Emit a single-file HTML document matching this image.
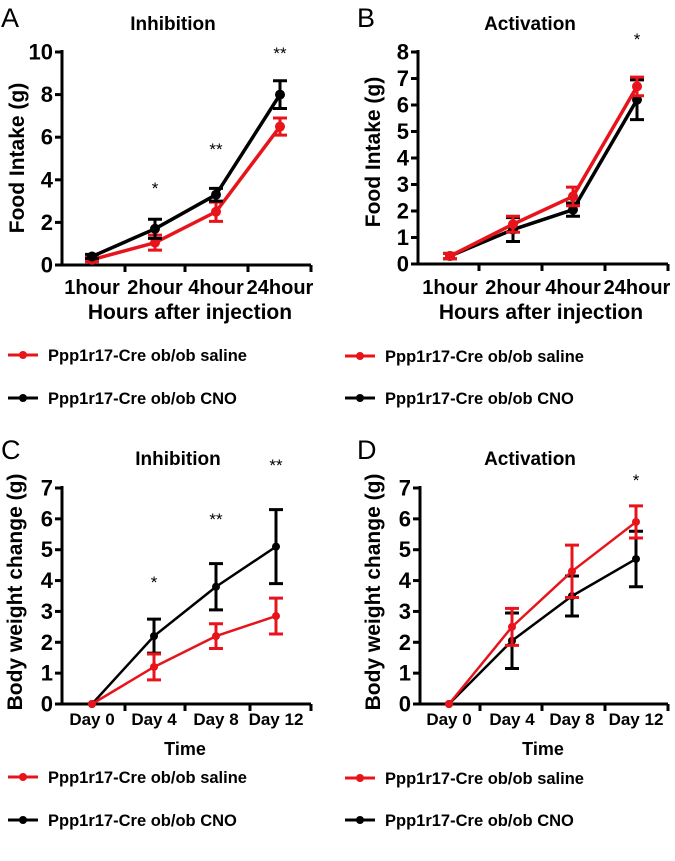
<!DOCTYPE html>
<html><head><meta charset="utf-8"><style>
body{margin:0;background:#fff}
svg{display:block;font-family:"Liberation Sans",Arial,sans-serif}
</style></head><body>
<svg id="s" width="675" height="861" viewBox="0 0 675 861" xmlns="http://www.w3.org/2000/svg"></svg>
<script>
const hourCats = ["1hour","2hour","4hour","24hour"];
const dayCats = ["Day 0","Day 4","Day 8","Day 12"];
const aCNO = [0.4,1.7,3.3,8.0], aCNOerr = [0.1,0.45,0.3,0.65];
const aSal = [0.25,1.05,2.5,6.5], aSalErr = [0.1,0.35,0.45,0.4];
const bCNO = [0.3,1.3,2.05,6.2], bCNOerr = [0.1,0.45,0.25,0.75];
const bSal = [0.3,1.5,2.55,6.7], bSalErr = [0.1,0.3,0.35,0.35];
const cCNO = [0,2.2,3.8,5.1], cCNOerr = [0,0.55,0.75,1.2];
const cSal = [0,1.2,2.2,2.85], cSalErr = [0,0.42,0.4,0.58];
const dCNO = [0,2.05,3.5,4.7], dCNOerr = [0,0.9,0.65,0.9];
const dSal = [0,2.5,4.3,5.9], dSalErr = [0,0.6,0.85,0.52];
const aStars = ["","*","**","**"], bStars = ["","","","*"], cStars = ["","*","**","**"], dStars = ["","","","*"];
const aTicks=[0,2,4,6,8,10], bTicks=[0,1,2,3,4,5,6,7,8], cdTicks=[0,1,2,3,4,5,6,7];

const S=document.getElementById('s');
const NS="http://www.w3.org/2000/svg";
function el(t,a,txt){const e=document.createElementNS(NS,t);for(const k in a)e.setAttribute(k,a[k]);if(txt!==undefined)e.textContent=txt;S.appendChild(e);return e;}

function panel(p){
  const y=v=>p.y0-(v/p.ymax)*(p.y0-p.ytop);
  const x=i=>p.pts[i];
  let e;
  e=el('text',{x:p.lx,y:p.ly,'font-size':27},p.letter);
  
  
  e=el('text',{x:p.tx,y:p.ty,'font-size':19,'font-weight':'bold','text-anchor':'middle'},p.title);
  
  
  e=el('line',{x1:p.ax,y1:p.ytop-2,x2:p.ax,y2:p.y0+1.5,stroke:'#000','stroke-width':3});
  
  
  e=el('line',{x1:p.ax-1.5,y1:p.y0,x2:p.xticks[3],y2:p.y0,stroke:'#000','stroke-width':3});
  
  
  p.xticks.forEach(t=>{const l=el('line',{x1:t,y1:p.y0,x2:t,y2:p.y0+7,stroke:'#000','stroke-width':3});
    
    });
  p.yticks.forEach(v=>{
    const l=el('line',{x1:p.ax-7,y1:y(v),x2:p.ax,y2:y(v),stroke:'#000','stroke-width':3});
    
    
    const t=el('text',{x:p.ax-9,y:y(v)+7.5,'font-size':22,'font-weight':'bold','text-anchor':'end'},String(v));
    
    
  });
  p.cats.forEach((c,i)=>{
    const t=el('text',{x:x(i),y:p.catY,'font-size':p.catFs,'font-weight':'bold','text-anchor':'middle'},c);
    
    
  });
  e=el('text',{x:p.xtX,y:p.xtY,'font-size':p.xtFs,'font-weight':'bold','text-anchor':'middle'},p.xtitle);
  
  
  e=el('text',{x:0,y:0,'font-size':p.ytFs,'font-weight':'bold','text-anchor':'middle',transform:`translate(${p.ytX},${p.ytY}) rotate(-90)`},p.ytitle);
  
  
  const series=p.order.map(k=>p.series[k]);
  series.forEach(s=>{
    const pts=s.v.map((v,i)=>x(i)+','+y(v)).join(' ');
    let l=el('polyline',{points:pts,fill:'none',stroke:s.c,'stroke-width':p.lw,'stroke-linejoin':'round'});
    
    
    s.v.forEach((v,i)=>{
      const er=s.e[i];
      if(er>0){
        const g=el('path',{d:`M${x(i)},${y(v-er)}V${y(v+er)}M${x(i)-7},${y(v+er)}H${x(i)+7}M${x(i)-7},${y(v-er)}H${x(i)+7}`,stroke:s.c,'stroke-width':3,fill:'none'});
        
        
      }
      const c=el('circle',{cx:x(i),cy:y(v),r:p.r,fill:s.c});
      
      
    });
  });
  p.stars.forEach((st,i)=>{ if(!st)return;
    const t=el('text',{x:x(i),y:p.starY[i],'font-size':17,'text-anchor':'middle'},st);
    
    
  });
  [['saline','#e8141b','Ppp1r17-Cre ob/ob saline',p.legY[0]],['cno','#000','Ppp1r17-Cre ob/ob CNO',p.legY[1]]].forEach(([n,c,txt,ly])=>{
    let l=el('line',{x1:p.legX,y1:ly,x2:p.legX+30,y2:ly,stroke:c,'stroke-width':3});
    
    
    l=el('circle',{cx:p.legX+15,cy:ly,r:4,fill:c});
    
    
    l=el('text',{x:p.legX+40,y:ly+6,'font-size':16.5,'font-weight':'bold'},txt);
    
    
  });
}
const red='#e8141b';
panel({letter:'A',lx:1,ly:27,title:'Inhibition',tx:173,ty:30,ax:62,y0:265,ytop:52,ymax:10,yticks:aTicks,
  xticks:[125,185,248,311],pts:[92,155,216,280],cats:hourCats,catY:294,catFs:20,xtitle:'Hours after injection',xtX:190,xtY:319,xtFs:21,
  ytitle:'Food Intake (g)',ytX:24,ytY:158,ytFs:21,lw:3.5,r:5,order:['sal','cno'],
  series:{cno:{v:aCNO,e:aCNOerr,c:'#000',name:'cno'},sal:{v:aSal,e:aSalErr,c:red,name:'saline'}},
  stars:aStars,starY:[0,194,155,59],legX:8,legY:[355,398]});
panel({letter:'B',lx:357,ly:27,title:'Activation',tx:530,ty:30,ax:418,y0:264,ytop:52,ymax:8,yticks:bTicks,
  xticks:[479,542,605,668],pts:[450,513,573,637],cats:hourCats,catY:294,catFs:20,xtitle:'Hours after injection',xtX:541,xtY:319,xtFs:21,
  ytitle:'Food Intake (g)',ytX:380,ytY:152,ytFs:21,lw:3.5,r:5,order:['cno','sal'],
  series:{cno:{v:bCNO,e:bCNOerr,c:'#000',name:'cno'},sal:{v:bSal,e:bSalErr,c:red,name:'saline'}},
  stars:bStars,starY:[0,0,0,45],legX:345,legY:[356,398]});
panel({letter:'C',lx:1,ly:459,title:'Inhibition',tx:178,ty:465,ax:62,y0:704,ytop:488,ymax:7,yticks:cdTicks,
  xticks:[125,185,250,311],pts:[92,154,216,276],cats:dayCats,catY:725,catFs:17,xtitle:'Time',xtX:185,xtY:755,xtFs:18,
  ytitle:'Body weight change (g)',ytX:22,ytY:592,ytFs:21,lw:2.5,r:4,order:['cno','sal'],
  series:{cno:{v:cCNO,e:cCNOerr,c:'#000',name:'cno'},sal:{v:cSal,e:cSalErr,c:red,name:'saline'}},
  stars:cStars,starY:[0,588,525,471],legX:8,legY:[777,820]});
panel({letter:'D',lx:357,ly:459,title:'Activation',tx:530,ty:465,ax:420,y0:704,ytop:488,ymax:7,yticks:cdTicks,
  xticks:[480,542,605,668],pts:[449,512,572,636],cats:dayCats,catY:725,catFs:17,xtitle:'Time',xtX:543,xtY:755,xtFs:18,
  ytitle:'Body weight change (g)',ytX:380,ytY:592,ytFs:21,lw:2.5,r:4,order:['cno','sal'],
  series:{cno:{v:dCNO,e:dCNOerr,c:'#000',name:'cno'},sal:{v:dSal,e:dSalErr,c:red,name:'saline'}},
  stars:dStars,starY:[0,0,0,486],legX:345,legY:[778,820]});
</script>
</body></html>
